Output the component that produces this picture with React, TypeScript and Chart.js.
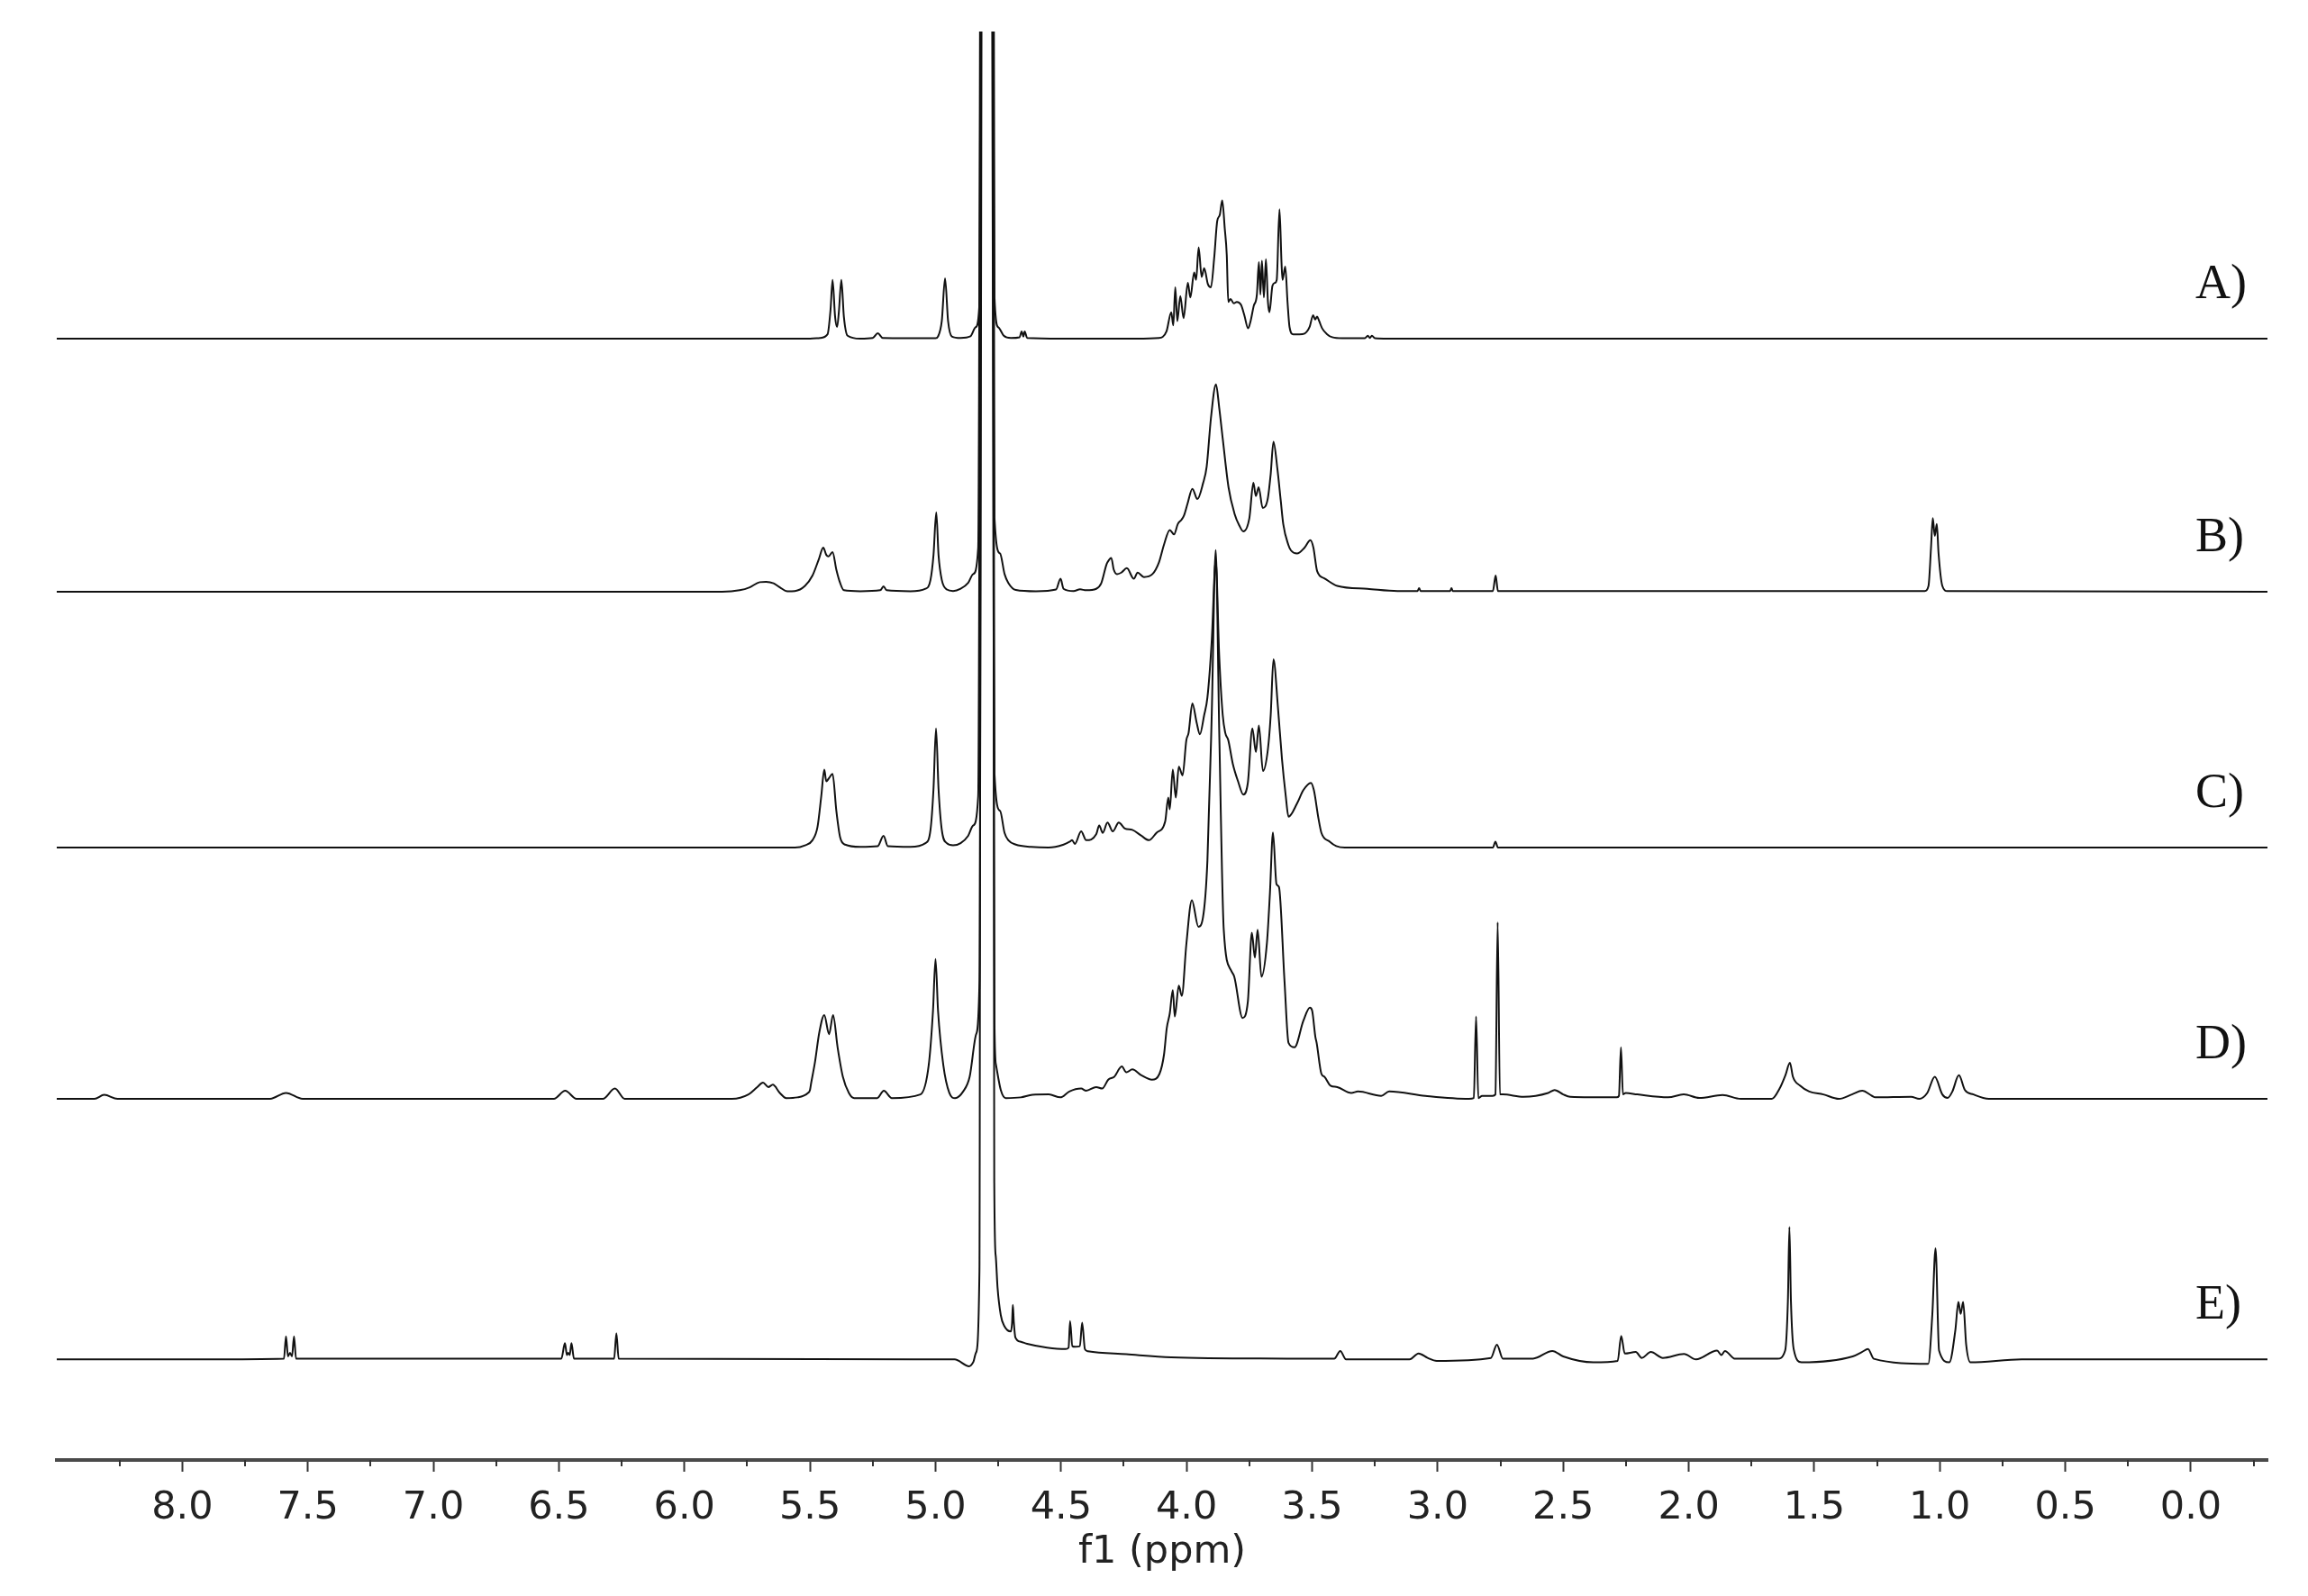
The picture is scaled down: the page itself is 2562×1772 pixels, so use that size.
import React, { useEffect, useRef } from 'react';
import { Chart, registerables } from 'chart.js';

Chart.register(...registerables);

// Axis tick labels (ppm)
const TICK_VALUES = [8.0, 7.5, 7.0, 6.5, 6.0, 5.5, 5.0, 4.5, 4.0, 3.5, 3.0, 2.5, 2.0, 1.5, 1.0, 0.5, 0.0];
const SERIES_LABELS = ['A)', 'B)', 'C)', 'D)', 'E)'];

// Each spectrum: [ppm, intensity above its own baseline]
const TRACE_A: [number, number][] = [
  [8.5, 0], [5.5, 0], [5.46, 0.5], [5.43, 3], [5.418, 20], [5.41, 40], [5.4, 15], [5.392, 8], [5.385, 18],
  [5.375, 40], [5.365, 15], [5.35, 2], [5.3, 0], [5.25, 0.5], [5.23, 3.7], [5.21, 0.5], [5.0, 0.3], [4.99, 1.5],
  [4.975, 12], [4.962, 41], [4.95, 12], [4.935, 1.5], [4.9, 0.5], [4.861, 1.6], [4.84, 7.8], [4.825, 24],
  [4.812, 1000], [4.778, 1000], [4.765, 28], [4.75, 7.8], [4.728, 2], [4.7, 0.5], [4.665, 1], [4.657, 5],
  [4.65, 1.5], [4.645, 5], [4.635, 0.5], [4.5, 0], [4.2, 0], [4.11, 0.5], [4.08, 5], [4.061, 18], [4.053, 9],
  [4.045, 35], [4.037, 12], [4.025, 29], [4.012, 14], [3.995, 38], [3.985, 28], [3.97, 45], [3.962, 40],
  [3.952, 62], [3.94, 42], [3.93, 48], [3.915, 37], [3.903, 35], [3.89, 55], [3.878, 80], [3.868, 84],
  [3.858, 94], [3.848, 75], [3.84, 57], [3.834, 25], [3.825, 27], [3.812, 24], [3.8, 25], [3.783, 23],
  [3.77, 16], [3.755, 7], [3.745, 12], [3.733, 22], [3.72, 30], [3.712, 52], [3.706, 30], [3.7, 53],
  [3.692, 28], [3.684, 54], [3.676, 25], [3.67, 18], [3.658, 36], [3.648, 38], [3.641, 40], [3.63, 88],
  [3.622, 52], [3.618, 40], [3.607, 49], [3.598, 25], [3.59, 8], [3.575, 3], [3.55, 3], [3.53, 3.5],
  [3.51, 8], [3.496, 16], [3.488, 13], [3.48, 15], [3.472, 12], [3.46, 7], [3.44, 3], [3.42, 1], [3.38, 0.3],
  [3.29, 0.3], [3.278, 2], [3.27, 0.5], [3.262, 2], [3.25, 0.3], [3.2, 0], [-0.305, 0],
];

const TRACE_B: [number, number][] = [
  [8.5, 0], [5.85, 0], [5.78, 1], [5.74, 3], [5.7, 6.5], [5.675, 6.7], [5.645, 5.7], [5.62, 3], [5.59, 0.3],
  [5.56, 0.5], [5.52, 4], [5.49, 11], [5.465, 22], [5.447, 30], [5.435, 25], [5.426, 24], [5.41, 27],
  [5.395, 15], [5.38, 6], [5.365, 1], [5.3, 0.3], [5.22, 1], [5.207, 3.7], [5.195, 1], [5.1, 0.3], [5.04, 2],
  [5.02, 8], [5.008, 25], [4.997, 54], [4.988, 25], [4.975, 8], [4.955, 1.5], [4.93, 0.5], [4.9, 2], [4.87, 6],
  [4.85, 12], [4.83, 30], [4.812, 1000], [4.778, 1000], [4.765, 50], [4.743, 26], [4.725, 12], [4.71, 6],
  [4.68, 1.2], [4.6, 0.3], [4.52, 1.5], [4.502, 8.8], [4.49, 2], [4.45, 0.5], [4.424, 1.6], [4.4, 1],
  [4.36, 2], [4.34, 5.7], [4.32, 18], [4.315, 20], [4.3, 23], [4.29, 15], [4.277, 12], [4.26, 13],
  [4.238, 16], [4.21, 8.8], [4.195, 13], [4.17, 10], [4.136, 12], [4.11, 20], [4.09, 32], [4.067, 42],
  [4.05, 39], [4.035, 46], [4.02, 49], [4.01, 52], [3.996, 60], [3.977, 70], [3.957, 63], [3.934, 74],
  [3.92, 85], [3.903, 118], [3.883, 141], [3.87, 125], [3.856, 104], [3.833, 71], [3.809, 53], [3.79, 45],
  [3.774, 41], [3.75, 50], [3.734, 74], [3.724, 65], [3.713, 71], [3.697, 57], [3.677, 63], [3.665, 80],
  [3.654, 102], [3.638, 83], [3.625, 62], [3.615, 46], [3.595, 32], [3.584, 28], [3.56, 26], [3.53, 30],
  [3.507, 35], [3.495, 30], [3.48, 14], [3.45, 9], [3.4, 4], [3.28, 2], [3.16, 0.5], [3.08, 0.5],
  [3.074, 2.5], [3.068, 0.5], [2.95, 0.5], [2.945, 2.5], [2.94, 0.5], [2.78, 0.5], [2.769, 11], [2.76, 0.5],
  [1.06, 0.5], [1.045, 4], [1.035, 30], [1.028, 50], [1.02, 38], [1.012, 46], [1.005, 26], [0.99, 4],
  [0.97, 0.5], [-0.305, 0],
];

const TRACE_C: [number, number][] = [
  [8.5, 0], [5.56, 0], [5.52, 1.5], [5.49, 5], [5.47, 14], [5.455, 35], [5.443, 53], [5.435, 45],
  [5.425, 47], [5.41, 50], [5.395, 25], [5.38, 7], [5.36, 2], [5.3, 0.5], [5.23, 1], [5.207, 8], [5.19, 1],
  [5.1, 0.5], [5.04, 3], [5.02, 12], [5.008, 40], [4.998, 81], [4.988, 40], [4.975, 12], [4.955, 3],
  [4.93, 1.5], [4.9, 3], [4.87, 8], [4.85, 15], [4.83, 35], [4.812, 1000], [4.778, 1000], [4.765, 50],
  [4.743, 25], [4.725, 10], [4.71, 5], [4.68, 2], [4.62, 0.5], [4.55, 0], [4.49, 2], [4.465, 4], [4.456, 5],
  [4.445, 2.5], [4.42, 11], [4.4, 5], [4.36, 9], [4.348, 15], [4.334, 10], [4.315, 17], [4.294, 11],
  [4.27, 17], [4.246, 13], [4.216, 12], [4.18, 8], [4.15, 5], [4.12, 10], [4.085, 18], [4.073, 34],
  [4.067, 26], [4.055, 53], [4.043, 34], [4.031, 55], [4.016, 49], [4.001, 73], [3.992, 78], [3.977, 98],
  [3.96, 85], [3.947, 77], [3.93, 90], [3.917, 102], [3.9, 140], [3.884, 195], [3.87, 130], [3.856, 90],
  [3.846, 78], [3.834, 73], [3.816, 57], [3.795, 45], [3.774, 36], [3.756, 44], [3.738, 81], [3.724, 65],
  [3.712, 83], [3.696, 52], [3.676, 67], [3.665, 90], [3.654, 128], [3.636, 95], [3.62, 60], [3.605, 35],
  [3.594, 21], [3.56, 30], [3.535, 39], [3.505, 44], [3.493, 39], [3.475, 20], [3.463, 10], [3.43, 4],
  [3.404, 1], [3.37, 0], [2.78, 0], [2.77, 4], [2.76, 0], [-0.305, 0],
];

const TRACE_D: [number, number][] = [
  [8.5, 0], [8.35, 0], [8.311, 2.7], [8.258, 0], [7.65, 0], [7.587, 4], [7.521, 0], [6.52, 0], [6.475, 5.5],
  [6.43, 0], [6.325, 0], [6.277, 7], [6.238, 0], [5.811, 0], [5.745, 3], [5.71, 8], [5.687, 11], [5.666, 8],
  [5.648, 9.6], [5.62, 4], [5.595, 0.5], [5.55, 1], [5.508, 4], [5.5, 6], [5.495, 11], [5.48, 25],
  [5.463, 45], [5.443, 57], [5.424, 44], [5.408, 57], [5.39, 35], [5.369, 15], [5.345, 4], [5.324, 0.5],
  [5.232, 0.5], [5.206, 5.5], [5.174, 0.5], [5.06, 3], [5.027, 23], [5.01, 60], [5.0, 95], [4.99, 60],
  [4.969, 23], [4.945, 4], [4.922, 0.5], [4.89, 5], [4.864, 15], [4.838, 44], [4.825, 80], [4.812, 1000],
  [4.778, 1000], [4.765, 50], [4.759, 23], [4.74, 6], [4.72, 0.5], [4.66, 1], [4.614, 2.7], [4.549, 3],
  [4.503, 1], [4.467, 5], [4.42, 7], [4.4, 5.5], [4.36, 8], [4.336, 7], [4.312, 13], [4.288, 15],
  [4.258, 22], [4.24, 18], [4.216, 20], [4.18, 16], [4.138, 13], [4.108, 17], [4.09, 30], [4.079, 48],
  [4.067, 58], [4.055, 74], [4.047, 56], [4.031, 77], [4.019, 70], [4.001, 105], [3.979, 135], [3.953, 117],
  [3.935, 123], [3.917, 162], [3.9, 260], [3.884, 373], [3.87, 250], [3.852, 115], [3.822, 87], [3.81, 83],
  [3.777, 55], [3.756, 66], [3.74, 113], [3.728, 96], [3.717, 115], [3.702, 83], [3.68, 106], [3.668, 140],
  [3.656, 181], [3.642, 146], [3.632, 144], [3.61, 80], [3.594, 38], [3.57, 35], [3.535, 53], [3.509, 62],
  [3.5, 60], [3.487, 42], [3.482, 38], [3.463, 17], [3.451, 15], [3.427, 9], [3.4, 8], [3.344, 4],
  [3.317, 5], [3.225, 2], [3.193, 5], [3.049, 2], [2.875, 0], [2.856, 0.5], [2.847, 56], [2.838, 0.5],
  [2.823, 2], [2.781, 2], [2.77, 3], [2.761, 120], [2.752, 3], [2.741, 3], [2.658, 1.4], [2.56, 4],
  [2.534, 6], [2.5, 3], [2.472, 1.4], [2.287, 1], [2.278, 2], [2.27, 35], [2.262, 3], [2.251, 4],
  [2.205, 3], [2.082, 1], [2.02, 3], [1.958, 0.6], [1.865, 2.6], [1.793, 0], [1.669, 0], [1.638, 7],
  [1.615, 16], [1.597, 24.5], [1.585, 15], [1.557, 9], [1.52, 5], [1.464, 3], [1.402, 0], [1.35, 3],
  [1.309, 5.5], [1.27, 2], [1.257, 1], [1.114, 1.4], [1.082, 0], [1.05, 4], [1.02, 15], [0.99, 3],
  [0.969, 0.6], [0.95, 5], [0.924, 16], [0.9, 6], [0.866, 3], [0.804, 0], [-0.305, 0],
];

const TRACE_E: [number, number][] = [
  [8.5, 0], [7.9, 0], [7.595, 0.5], [7.587, 15.7], [7.579, 2], [7.571, 4.5], [7.563, 2], [7.555, 15.7],
  [7.547, 0.5], [6.49, 0.5], [6.476, 11], [6.468, 3], [6.463, 4.5], [6.457, 3], [6.45, 11], [6.44, 0.5],
  [6.28, 0.5], [6.271, 17.8], [6.262, 0.5], [4.95, 0], [4.924, 0], [4.866, -4.7], [4.85, -2], [4.839, 4.5],
  [4.825, 60], [4.818, 1000], [4.772, 1000], [4.766, 120], [4.76, 70], [4.753, 49], [4.74, 30],
  [4.727, 23], [4.7, 19], [4.695, 25], [4.692, 37], [4.688, 25], [4.682, 15], [4.66, 12], [4.635, 10.6],
  [4.556, 8], [4.482, 7], [4.47, 8], [4.464, 26], [4.455, 9], [4.445, 8.6], [4.425, 9], [4.416, 25],
  [4.405, 7], [4.393, 5.5], [4.24, 3.5], [4.061, 1.4], [3.6, 0.5], [3.412, 0.4], [3.388, 5.7], [3.365, 0],
  [3.112, 0], [3.076, 4], [3.04, 1], [3.004, -1], [2.788, 1], [2.764, 10], [2.74, 0.4], [2.62, 0.5],
  [2.543, 5.7], [2.5, 2], [2.38, -2], [2.283, -1], [2.269, 16], [2.255, 4], [2.211, 5], [2.187, 1],
  [2.151, 5], [2.103, 1], [2.019, 3.7], [1.971, 0], [1.887, 6], [1.87, 3], [1.856, 5.7], [1.815, 0.4],
  [1.647, 0.4], [1.616, 6], [1.605, 40], [1.599, 90], [1.593, 40], [1.582, 7], [1.551, -2], [1.347, 2],
  [1.31, 5], [1.286, 7], [1.263, 0.4], [1.046, -3], [1.03, 30], [1.017, 75.5], [1.003, 6], [0.962, -2],
  [0.938, 20], [0.926, 39], [0.917, 31], [0.907, 39], [0.895, 10], [0.878, -2], [0.674, 0], [-0.305, 0],
];

const TRACES = [TRACE_A, TRACE_B, TRACE_C, TRACE_D, TRACE_E];
// vertical stacking offset of each spectrum (layout)
const OFFSETS = [762.2, 590.2, 416.3, 245.5, 68.4];

const W = 2562;
const H = 1772;

export default function App() {
  const ref = useRef<HTMLCanvasElement | null>(null);

  useEffect(() => {
    const canvas = ref.current;
    if (!canvas) return;

    const overlay = {
      id: 'overlay',
      afterDraw(chart: any) {
        const ctx = chart.ctx;
        const xs = chart.scales.x;
        const ys = chart.scales.y;
        ctx.save();
        // minor ticks
        ctx.strokeStyle = '#333';
        ctx.lineWidth = 2;
        const minors = TICK_VALUES.map((v) => v + 0.25).concat([TICK_VALUES[TICK_VALUES.length - 1] - 0.25]);
        minors.forEach((v) => {
          const px = Math.round(xs.getPixelForValue(v));
          ctx.beginPath();
          ctx.moveTo(px, xs.top);
          ctx.lineTo(px, xs.top + 7);
          ctx.stroke();
        });
        // series labels
        ctx.fillStyle = '#111';
        ctx.font = '54px "Liberation Serif"';
        ctx.textAlign = 'left';
        ctx.textBaseline = 'alphabetic';
        SERIES_LABELS.forEach((lab, i) => {
          const py = ys.getPixelForValue(OFFSETS[i]);
          ctx.fillText(lab, 2437, py - 45);
        });
        ctx.restore();
      },
    };

    const chart = new Chart(canvas, {
      type: 'line',
      data: {
        datasets: TRACES.map((tr, i) => ({
          label: SERIES_LABELS[i],
          data: tr.map(([p, h]) => ({ x: p, y: h + OFFSETS[i] })),
          borderColor: '#111',
          borderWidth: 2,
          pointRadius: 0,
          cubicInterpolationMode: 'monotone' as const,
          fill: false,
          borderJoinStyle: 'round' as const,
        })),
      },
      options: {
        animation: false,
        responsive: false,
        devicePixelRatio: 1,
        events: [],
        layout: { padding: { top: 35, left: 63, right: 45, bottom: 0 } },
        plugins: { legend: { display: false }, tooltip: { enabled: false } },
        scales: {
          x: {
            type: 'linear',
            reverse: true,
            min: -0.305,
            max: 8.5,
            afterBuildTicks: (scale: any) => {
              scale.ticks = TICK_VALUES.map((v) => ({ value: v }));
            },
            afterFit: (scale: any) => {
              scale.height = 151;
            },
            ticks: {
              autoSkip: false,
              maxRotation: 0,
              padding: 15,
              color: '#222',
              font: { family: 'DejaVu Sans', size: 43 },
              callback: (v: any) => Number(v).toFixed(1),
            },
            grid: {
              display: true,
              drawOnChartArea: false,
              drawTicks: true,
              tickLength: 13,
              tickWidth: 2,
              tickColor: '#333',
            },
            border: { display: true, color: '#4a4a4a', width: 4 },
            title: {
              display: true,
              text: 'f1 (ppm)',
              color: '#222',
              font: { family: 'DejaVu Sans', size: 43 },
              padding: { top: 0, bottom: 22 },
            },
          },
          y: {
            type: 'linear',
            display: false,
            min: 0,
            max: 971,
          },
        },
      },
      plugins: [overlay],
    });

    return () => chart.destroy();
  }, []);

  return (
    <div style={{ position: 'fixed', left: 0, top: 0, width: W, height: H, background: '#fff' }}>
      <canvas ref={ref} width={W} height={H} style={{ display: 'block', width: W, height: H }} />
    </div>
  );
}
